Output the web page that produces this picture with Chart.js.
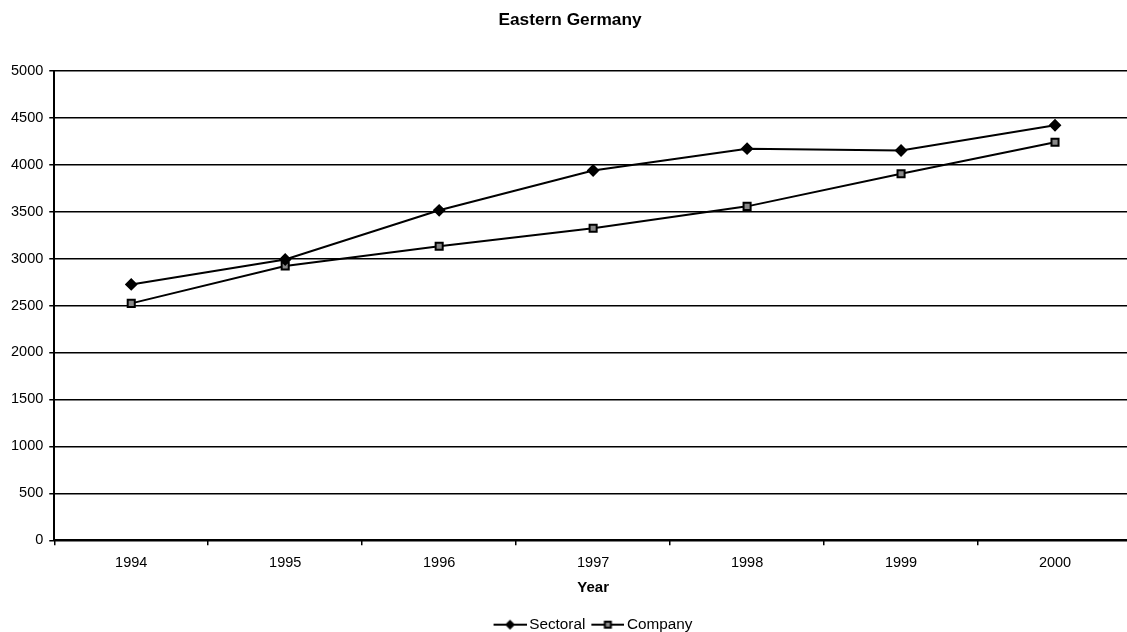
<!DOCTYPE html>
<html lang="en">
<head>
  <meta charset="UTF-8" />
  <title>Eastern Germany</title>
  <script src="https://cdn.jsdelivr.net/npm/chart.js"></script>
  <style>
    html, body { margin: 0; background: #fff; overflow: hidden; }
    /* a bit wider than the window: the plot runs off the right edge like the original */
    #wrap { width: 1139px; height: 632px; }
  </style>
</head>
<body>
  <div id="wrap"><canvas id="chart"></canvas></div>

  <script>
    const years = ['1994', '1995', '1996', '1997', '1998', '1999', '2000'];
    const sectoral = [2725, 2990, 3514, 3938, 4170, 4151, 4420];
    const company = [2523, 2920, 3132, 3323, 3556, 3903, 4239];

    const font = 'Arial, "Liberation Sans", sans-serif';

    // legend icon: short line with the marker in the middle
    function legendIcon(kind) {
      const c = document.createElement('canvas');
      c.width = 36; c.height = 12;
      const g = c.getContext('2d');
      g.strokeStyle = '#000'; g.lineWidth = 2;
      g.beginPath(); g.moveTo(3, 6); g.lineTo(36, 6); g.stroke();
      g.fillStyle = '#000';
      const m = 19.5;
      if (kind === 'diamond') {
        g.beginPath(); g.moveTo(m, 1); g.lineTo(m + 5, 6); g.lineTo(m, 11); g.lineTo(m - 5, 6); g.closePath(); g.fill();
      } else {
        g.fillRect(m - 4, 2, 8, 8);
        g.fillStyle = '#888'; g.fillRect(m - 2, 4, 4, 4);
      }
      return c;
    }
    const icons = [legendIcon('diamond'), legendIcon('square')];

    // put title and legend where the original has them
    const placeBoxes = {
      id: 'placeBoxes',
      afterLayout(chart) {
        const lg = chart.legend;
        if (lg) {
          const w = lg.right - lg.left, h = lg.bottom - lg.top;
          lg.left = 594 - w / 2; lg.right = lg.left + w;
          lg.top = 609; lg.bottom = lg.top + h;
        }
        const t = chart.titleBlock;
        if (t) {
          const w = t.right - t.left;
          t.left = 570 - w / 2; t.right = t.left + w;
        }
      }
    };

    new Chart(document.getElementById('chart'), {
      type: 'line',
      data: {
        labels: years,
        datasets: [
          {
            label: 'Sectoral', data: sectoral,
            borderColor: '#000', backgroundColor: '#000', borderWidth: 2,
            pointStyle: 'rectRot', pointRadius: 5, pointHoverRadius: 5,
            tension: 0
          },
          {
            label: 'Company', data: company,
            borderColor: '#000', backgroundColor: '#888', borderWidth: 2,
            pointStyle: 'rect', pointRadius: 5, pointHoverRadius: 5, pointBorderWidth: 2,
            tension: 0
          }
        ]
      },
      plugins: [placeBoxes],
      options: {
        responsive: true,
        maintainAspectRatio: false,
        animation: false,
        layout: { padding: { left: 5, right: 0, top: 0, bottom: 0 } },
        plugins: {
          title: {
            display: true, text: 'Eastern Germany', color: '#000',
            font: { family: font, size: 17.3, weight: 'bold' },
            padding: { top: 10, bottom: 40 }
          },
          legend: {
            position: 'bottom',
            labels: {
              color: '#000', font: { family: font, size: 15.3 },
              usePointStyle: true, pointStyleWidth: 26, padding: 8,
              generateLabels: (chart) => chart.data.datasets.map((d, i) => ({
                text: d.label, pointStyle: icons[i], datasetIndex: i,
                fontColor: '#000', lineWidth: 0, strokeStyle: 'transparent'
              }))
            }
          },
          tooltip: { enabled: false }
        },
        scales: {
          x: {
            offset: true,
            grid: { offset: true, drawOnChartArea: false, color: '#000', tickLength: 5, lineWidth: 1.5 },
            border: { color: '#000', width: 2 },
            ticks: { color: '#000', font: { family: font, size: 14.5 }, padding: 9, maxRotation: 0 },
            title: { display: true, text: 'Year', color: '#000', font: { family: font, size: 15, weight: 'bold' }, padding: { top: 1, bottom: 2 } },
            afterFit: (scale) => { scale.height -= 3; }
          },
          y: {
            min: 0, max: 5000,
            grid: { color: '#000', lineWidth: 1.5, tickLength: 5 },
            border: { color: '#000', width: 2 },
            ticks: { stepSize: 500, color: '#000', font: { family: font, size: 14.5 }, padding: 6, callback: (v) => String(v) }
          }
        }
      }
    });
  </script>
</body>
</html>
